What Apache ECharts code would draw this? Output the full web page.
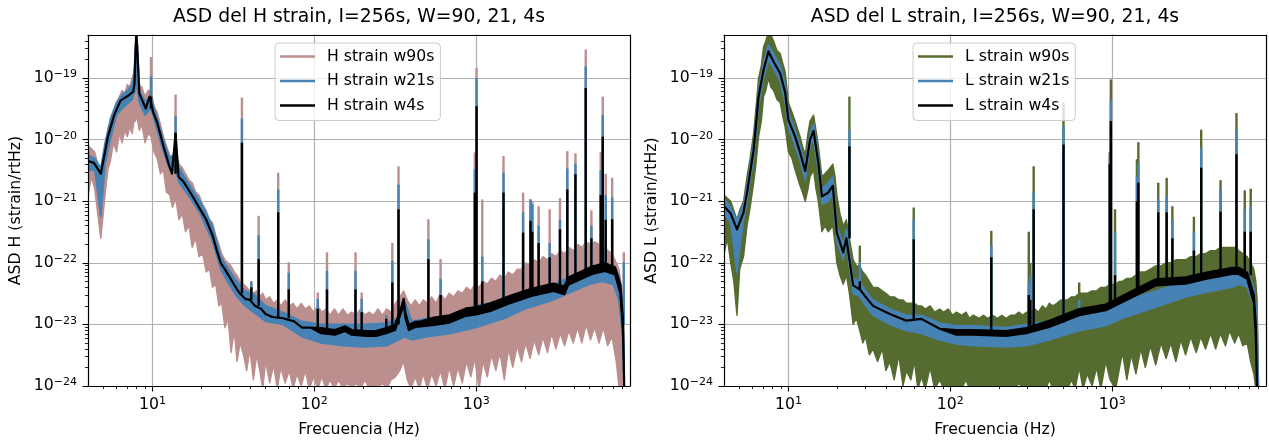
<!DOCTYPE html>
<html>
<head>
<meta charset="utf-8">
<script src="https://cdn.jsdelivr.net/npm/echarts@6/dist/echarts.min.js"></script>
<style>html,body{margin:0;padding:0;background:#fff}#c{width:1269px;height:443px}</style>
</head>
<body>
<div id="c"></div>
<script>
// ---------------- axis ranges & ticks ----------------
const X_MIN = 4, X_MAX = 8900;
const Y_MIN = 1e-24, Y_MAX = 5e-19;
const xMajor = [10, 100, 1000];
const xMinor = [5,6,7,8,9,20,30,40,50,60,70,80,90,200,300,400,500,600,700,800,900,2000,3000,4000,5000,6000,7000,8000];
const yMajor = [1e-24, 1e-23, 1e-22, 1e-21, 1e-20, 1e-19];
const yMinor = [];
for (let d = -24; d <= -19; d++) for (let k = 2; k <= 9; k++) { const v = k * Math.pow(10, d); if (v < Y_MAX) yMinor.push(v); }

const titles = ['ASD del H strain, I=256s, W=90, 21, 4s', 'ASD del L strain, I=256s, W=90, 21, 4s'];
const yNames = ['ASD H (strain/rtHz)', 'ASD L (strain/rtHz)'];
const xName = 'Frecuencia (Hz)';
const hNames = ['H strain w90s', 'H strain w21s', 'H strain w4s'];
const lNames = ['L strain w90s', 'L strain w21s', 'L strain w4s'];

// ---------------- H detector: bands [freq, low, high] ----------------
const hW90 = [
[4.0,1.26e-21,7.9e-21],[4.2,2.5e-21,7.1e-21],[4.4,1.58e-21,6.3e-21],[4.8,2.5e-22,2.5e-21],[5.1,1.26e-21,7.9e-21],
[5.3,3.2e-21,1.41e-20],[5.5,4.5e-21,2.0e-20],[5.75,8.9e-21,2.8e-20],[6.0,6.3e-21,4.0e-20],[6.25,1.26e-20,5.0e-20],
[6.5,8.9e-21,6.3e-20],[6.75,1.41e-20,5.6e-20],[7.0,1.12e-20,7.9e-20],[7.25,1.58e-20,7.1e-20],[7.5,1.26e-20,1.0e-19],
[7.7,2.0e-20,1.26e-19],[7.85,2.0e-20,3.2e-19],[7.95,2.5e-20,1e-18],[8.1,2.0e-20,3.2e-19],[8.3,1.41e-20,7.9e-20],
[8.6,1.78e-20,7.1e-20],[9.0,8.9e-21,5.0e-20],[9.4,1.26e-20,6.3e-20],[9.8,1.12e-20,6.3e-20],[10.2,6.3e-21,3.5e-20],
[10.7,5.0e-21,2.8e-20],[11.2,2.8e-21,1.78e-20],[11.7,3.2e-21,1.12e-20],[12.2,1.41e-21,7.9e-21],[12.8,1.26e-21,5.6e-21],
[13.3,7.9e-22,5.0e-21],[13.9,1.12e-21,7.1e-21],[14.6,5.0e-22,4.0e-21],[15.3,6.3e-22,3.5e-21],[16.0,3.2e-22,2.8e-21],
[16.8,4.0e-22,2.2e-21],[17.6,1.78e-22,2.0e-21],[18.5,2.5e-22,1.41e-21],[19.4,1.26e-22,1.26e-21],[20.4,1.41e-22,8.9e-22],
[21.5,7.1e-23,7.1e-22],[22.5,7.9e-23,5.0e-22],[23.5,4.0e-23,4.5e-22],[24.6,4.5e-23,2.8e-22],[25.7,2.0e-23,2.0e-22],
[26.8,2.2e-23,1.41e-22],[28.0,8.9e-24,1.12e-22],[29.3,1.26e-23,1.0e-22],[30.6,3.5e-24,8.9e-23],[32.0,7.9e-24,7.1e-23],
[33.3,2.5e-24,6.3e-23],[34.8,5.0e-24,5.0e-23],[36.5,3.2e-24,4.5e-23],[38.2,1.78e-24,4.0e-23],[40,4.0e-24,3.5e-23],
[42,1.26e-24,3.2e-23],[44,3.2e-24,3.5e-23],[46,1.78e-24,2.8e-23],[48,3.2e-25,3.2e-23],[50,2.5e-24,2.5e-23],
[53,1.12e-24,2.8e-23],[56,2.2e-24,2.2e-23],[59,6.3e-25,2.5e-23],[62,2.0e-24,2.0e-23],[66,1.12e-24,2.5e-23],
[70,1.78e-24,2.0e-23],[74,5.0e-25,2.2e-23],[78,1.58e-24,1.78e-23],[83,1.0e-24,2.2e-23],[88,1.78e-24,1.78e-23],
[93,4.0e-25,2.0e-23],[99,1.41e-24,1.58e-23],[105,7.9e-25,2.0e-23],[111,1.41e-24,1.58e-23],[118,3.2e-25,1.78e-23],
[125,1.26e-24,1.41e-23],[133,7.1e-25,1.78e-23],[141,1.26e-24,1.41e-23],[150,5.0e-25,1.78e-23],[160,1.12e-24,1.41e-23],
[170,3.2e-25,1.58e-23],[181,1.12e-24,1.41e-23],[193,6.3e-25,1.78e-23],[205,1.26e-24,1.41e-23],[218,4.0e-25,1.58e-23],
[232,1.0e-24,1.41e-23],[247,5.6e-25,1.78e-23],[263,1.12e-24,1.41e-23],[280,3.2e-25,1.78e-23],[298,1.26e-24,1.58e-23],
[317,1.41e-24,2.2e-23],[337,1.78e-24,2.8e-23],[356,2.5e-24,3.5e-23],[375,1.26e-24,2.5e-23],[395,5.0e-25,2.0e-23],
[420,1.41e-24,2.5e-23],[445,7.9e-25,2.0e-23],[470,1.58e-24,2.5e-23],[500,4.0e-25,2.2e-23],[530,1.58e-24,2.8e-23],
[565,1.0e-24,2.2e-23],[600,1.78e-24,3.2e-23],[640,6.3e-25,2.5e-23],[680,2.0e-24,3.2e-23],[725,1.0e-24,2.8e-23],
[770,2.0e-24,3.5e-23],[820,1.12e-24,3.2e-23],[870,2.5e-24,4.0e-23],[925,1.41e-24,3.5e-23],[980,2.8e-24,4.5e-23],
[1040,6.3e-25,4.0e-23],[1100,2.5e-24,5.0e-23],[1170,1.41e-24,4.5e-23],[1240,3.2e-24,5.6e-23],[1320,1.78e-24,5.0e-23],
[1400,3.5e-24,6.3e-23],[1490,1.26e-24,5.6e-23],[1580,4.0e-24,7.1e-23],[1680,2.0e-24,6.3e-23],[1790,4.5e-24,7.9e-23],
[1900,2.5e-24,7.9e-23],[2020,5.0e-24,1.0e-22],[2150,2.8e-24,8.9e-23],[2280,5.6e-24,1.12e-22],[2430,3.2e-24,1.0e-22],
[2580,6.3e-24,1.26e-22],[2750,3.5e-24,1.12e-22],[2920,7.1e-24,1.41e-22],[3100,4.0e-24,1.26e-22],[3300,7.1e-24,1.58e-22],
[3510,4.5e-24,1.41e-22],[3730,7.9e-24,1.78e-22],[3970,5.0e-24,1.58e-22],[4220,8.9e-24,2.0e-22],[4490,5.0e-24,1.78e-22],
[4770,1.0e-23,2.2e-22],[5070,5.6e-24,2.0e-22],[5390,8.9e-24,2.2e-22],[5730,5.0e-24,2.0e-22],[6090,8.9e-24,2.0e-22],
[6480,4.5e-24,1.58e-22],[6890,6.3e-24,1.41e-22],[7320,2.5e-24,1.0e-22],[7600,1.0e-24,7.9e-23],[7900,3.2e-25,4.0e-23],
[8100,3.2e-25,2.0e-23],[8200,3.2e-25,3.2e-24]
];
const hW21 = [
[4.0,3.2e-21,5.6e-21],[4.4,3.2e-21,5.0e-21],[4.8,5.6e-22,3.5e-21],[5.1,4.0e-21,8.9e-21],[5.5,1.0e-20,2.2e-20],
[6.0,2.5e-20,4.0e-20],[6.5,3.2e-20,5.4e-20],[7.0,3.8e-20,6.3e-20],[7.5,4.5e-20,7.9e-20],[7.7,5.6e-20,1.1e-19],
[7.85,6.3e-20,2.8e-19],[7.95,7.9e-20,1e-18],[8.1,6.3e-20,3.2e-19],[8.3,4.0e-20,6.3e-20],[9.0,2.5e-20,4.2e-20],
[9.8,3.2e-20,5.0e-20],[10.7,1.41e-20,2.2e-20],[11.7,6.3e-21,1.0e-20],[12.8,3.2e-21,5.0e-21],[13.9,3.2e-21,6.3e-21],
[14.6,2.0e-21,3.5e-21],[16.6,1.26e-21,2.0e-21],[19.7,6.3e-22,1.0e-21],[23.5,2.2e-22,4.0e-22],[26.4,7.9e-23,1.26e-22],
[29.6,4.5e-23,7.9e-23],[33.3,2.8e-23,5.0e-23],[37.4,2.0e-23,3.5e-23],[42,1.58e-23,3.2e-23],[50,1.12e-23,2.0e-23],
[64,1.0e-23,1.58e-23],[84,6.3e-24,1.12e-23],[110,5.0e-24,1.0e-23],[150,4.5e-24,1.0e-23],[200,4.3e-24,1.0e-23],
[280,4.5e-24,1.05e-23],[330,5.6e-24,1.26e-23],[360,6.3e-24,2.5e-23],[400,5.6e-24,1.12e-23],[500,6.3e-24,1.26e-23],
[700,7.1e-24,1.41e-23],[1000,8.9e-24,2.0e-23],[1500,1.26e-23,2.5e-23],[2000,1.78e-23,3.2e-23],[3000,2.5e-23,4.5e-23],
[4000,3.5e-23,6.3e-23],[5000,4.5e-23,7.9e-23],[6000,5.0e-23,1.0e-22],[7000,4.5e-23,8.9e-23],[7600,2.5e-23,6.3e-23],
[8000,6.3e-24,2.5e-23],[8200,5e-25,3.2e-24]
];
const hW4 = [
[4.0,4.5e-21,4.5e-21],[4.35,4.2e-21,4.2e-21],[4.8,2.8e-21,2.8e-21],[5.3,1.1e-20,1.1e-20],[5.8,2.5e-20,2.5e-20],
[6.35,4.3e-20,4.3e-20],[7.1,5.2e-20,5.2e-20],[7.6,6.0e-20,6.0e-20],[7.75,8.0e-20,8.0e-20],[7.85,2.5e-19,2.5e-19],
[7.95,1e-18,1e-18],[8.1,2.2e-19,2.2e-19],[8.3,5.6e-20,5.6e-20],[8.6,4.5e-20,4.5e-20],[9.1,3.2e-20,3.2e-20],
[9.6,5.0e-20,5.0e-20],[10.1,2.8e-20,2.8e-20],[10.7,1.9e-20,1.9e-20],[11.7,7.8e-21,7.8e-21],[12.6,4.0e-21,4.0e-21],
[13.2,2.8e-21,2.8e-21],[13.9,1.26e-20,1.26e-20],[14.5,2.5e-21,2.5e-21],[15.5,2.1e-21,2.1e-21],[16.6,1.58e-21,1.58e-21],
[18,1.12e-21,1.12e-21],[19.7,7.4e-22,7.4e-22],[21.5,5.0e-22,5.0e-22],[23.5,2.8e-22,2.8e-22],[25,1.58e-22,1.58e-22],
[26.4,1.0e-22,1.0e-22],[28,7.9e-23,7.9e-23],[29.6,6.2e-23,6.2e-23],[31.5,4.7e-23,4.7e-23],[33.3,3.7e-23,3.7e-23],
[34.6,3.2e-23,3.2e-23],[37.4,2.6e-23,2.6e-23],[40,2.5e-23,2.5e-23],[43,2.0e-23,2.0e-23],[47,1.78e-23,1.78e-23],
[50,1.48e-23,1.48e-23],[55,1.32e-23,1.32e-23],[64,1.26e-23,1.26e-23],[75,1.12e-23,1.12e-23],[84,8.9e-24,8.9e-24],
[95,8.9e-24,8.9e-24],[110,7.2e-24,8.7e-24],[134,6.8e-24,8.1e-24],[155,7.8e-24,9.3e-24],[170,6.8e-24,8.1e-24],
[210,6.5e-24,7.8e-24],[240,6.5e-24,7.8e-24],[278,7.2e-24,8.7e-24],[315,8.1e-24,9.8e-24],[345,1.62e-23,1.95e-23],
[356,2.2e-23,2.6e-23],[365,1.29e-23,1.55e-23],[383,8.1e-24,9.8e-24],[420,9.1e-24,1.1e-23],[455,9.3e-24,1.12e-23],
[550,9.8e-24,1.29e-23],[684,1.07e-23,1.41e-23],[863,1.38e-23,1.82e-23],[1000,1.45e-23,1.9e-23],[1222,1.66e-23,2.2e-23],
[1637,2.24e-23,2.95e-23],[2188,2.9e-23,3.8e-23],[3000,3.5e-23,4.6e-23],[3500,3.1e-23,4.1e-23],[3700,4.4e-23,5.8e-23],
[4395,5.4e-23,7.1e-23],[5200,6.6e-23,8.7e-23],[6223,7.4e-23,9.8e-23],[7194,6.5e-23,8.5e-23],[7762,3.2e-23,4.4e-23],
[8050,7.9e-24,1.26e-23],[8200,5e-25,5e-25]
];
// H spectral lines: [freq, base, peak w90s, peak w21s, peak w4s]
const hLines = [
[9.8,3.2e-20,2.2e-19,1.07e-19,5.0e-20],[13.9,2.8e-21,5.4e-20,2.4e-20,1.26e-20],[35.7,3.2e-23,4.8e-20,2.2e-20,8.9e-21],
[40.8,2.5e-23,5.0e-23,5.0e-23,4.0e-23],[45.3,2.0e-23,5.8e-22,2.8e-22,1.15e-22],[59.8,1.32e-23,2.9e-21,1.55e-21,6.6e-22],
[69.5,1.26e-23,1.02e-22,6.9e-23,3.7e-23],[105,8.5e-24,3.3e-23,2.6e-23,1.78e-23],[119.7,7.9e-24,1.48e-22,7.4e-23,3.7e-23],
[179.5,7.4e-24,1.48e-22,7.4e-23,3.7e-23],[196,7.4e-24,3.3e-23,2.6e-23,1.58e-23],[278,7.9e-24,1.78e-23,1.41e-23,1.23e-23],
[303,8.9e-24,2.1e-22,1.07e-22,4.8e-23],[331,1.0e-23,3.7e-21,1.86e-21,7.4e-22],[506,1.07e-23,5.1e-22,2.4e-22,1.15e-22],
[602,1.17e-23,1.15e-22,5.5e-23,3.0e-23],[980,1.58e-23,6.2e-21,3.3e-21,1.38e-21],[1004,1.66e-23,1.45e-19,1.0e-19,3.5e-20],
[1089,1.7e-23,1.07e-21,1.26e-22,5.0e-23],[1473,2.4e-23,5.4e-21,2.9e-21,1.38e-21],[1946,3.0e-23,1.38e-21,6.6e-22,3.1e-22],
[2162,3.2e-23,1.07e-21,1.07e-21,4.8e-22],[2220,3.2e-23,1.0e-21,8.9e-22,3.2e-22],[2427,3.5e-23,8.3e-22,4.0e-22,2.1e-22],
[2839,3.8e-23,7.4e-22,2.1e-22,1.23e-22],[3288,4.0e-23,1.12e-21,5.0e-22,3.5e-22],[3648,5.0e-23,6.5e-21,3.4e-21,1.55e-21],
[4096,5.6e-23,6.0e-21,4.1e-21,2.75e-21],[4742,6.6e-23,2.9e-19,1.55e-19,6.9e-20],[5140,7.2e-23,7.1e-22,4.0e-22,2.5e-22],
[5870,8.3e-23,6.3e-21,3.2e-21,1.26e-21],[6039,8.5e-23,5.0e-20,2.5e-20,1.12e-20],[6300,8.3e-23,2.8e-21,1.26e-21,5.0e-22],
[6905,7.9e-23,2.4e-21,1.15e-21,5.1e-22],[8150,1.0e-23,1.48e-22,1.02e-22,1.0e-23]
];

// ---------------- L detector ----------------
const lW90 = [
[4.0,1.41e-22,1.26e-21],[4.2,2.5e-22,1.12e-21],[4.4,1.0e-22,1.0e-21],[4.6,5.0e-23,7.1e-22],[4.81,1.41e-23,5.0e-22],
[5.0,7.9e-23,7.1e-22],[5.28,1.26e-22,1.0e-21],[5.55,4.0e-22,2.5e-21],[5.8,7.9e-22,5.0e-21],[6.1,2.0e-21,1.26e-20],
[6.3,4.0e-21,3.2e-20],[6.54,1.12e-20,1.0e-19],[6.8,2.0e-20,1.58e-19],[7.02,5.0e-20,3.2e-19],[7.25,6.3e-20,4.0e-19],
[7.53,1.0e-19,6.3e-19],[7.8,7.1e-20,5.0e-19],[8.09,6.3e-20,4.0e-19],[8.5,4.5e-20,2.8e-19],[8.89,4.0e-20,2.5e-19],
[9.2,2.5e-20,1.78e-19],[9.55,1.58e-20,1.26e-19],[10.0,6.3e-21,4.0e-20],[10.5,5.0e-21,2.8e-20],[11.0,3.2e-21,2.0e-20],
[11.8,1.78e-21,1.12e-20],[12.2,1.41e-21,7.9e-21],[12.7,1.0e-21,5.6e-21],[13.2,1.58e-21,1.26e-20],[13.6,2.5e-21,2.0e-20],
[14.3,3.2e-21,2.5e-20],[14.8,1.58e-21,1.41e-20],[15.3,1.0e-21,7.9e-21],[16.1,3.2e-22,2.5e-21],[16.8,4.0e-22,2.8e-21],
[17.6,3.2e-22,3.2e-21],[18.8,4.0e-22,4.0e-21],[19.4,2.0e-22,2.5e-21],[19.9,1.0e-22,1.26e-21],[20.8,6.3e-23,6.3e-22],
[21.8,4.5e-23,4.0e-22],[22.8,6.3e-23,5.0e-22],[23.8,3.2e-23,2.5e-22],[25.1,1.0e-23,1.12e-22],[26.3,1.26e-23,8.9e-23],
[27.6,7.9e-24,8.9e-23],[28.8,5.0e-24,7.1e-23],[30,6.3e-24,6.3e-23],[31.6,3.2e-24,5.0e-23],[33.3,4.0e-24,4.0e-23],
[35.5,2.5e-24,4.0e-23],[38,4.0e-24,3.5e-23],[40,1.78e-24,3.2e-23],[42.3,2.5e-24,2.8e-23],[45,1.26e-24,2.8e-23],
[48,3.2e-24,2.5e-23],[51,1.0e-24,2.5e-23],[53.5,1.78e-24,2.2e-23],[57,1.26e-24,2.2e-23],[60,2.5e-24,2.2e-23],
[63,6.3e-25,2.0e-23],[66.2,1.41e-24,2.0e-23],[70,7.9e-25,1.78e-23],[75,2.0e-24,2.0e-23],[80,5.0e-25,1.58e-23],
[86,1.26e-24,1.78e-23],[91,3.2e-25,1.58e-23],[97,7.9e-25,1.78e-23],[103,3.2e-25,1.41e-23],[109,6.3e-25,1.58e-23],
[117,3.2e-25,1.41e-23],[125,1.26e-24,1.58e-23],[131,3.2e-25,1.26e-23],[138,1.0e-24,1.41e-23],[150,3.2e-25,1.26e-23],
[160,7.9e-25,1.41e-23],[170,3.2e-25,1.26e-23],[182,6.3e-25,1.41e-23],[195,3.2e-25,1.26e-23],[208,1.0e-24,1.41e-23],
[221,3.2e-25,1.26e-23],[235,7.9e-25,1.41e-23],[250,3.2e-25,1.41e-23],[265,1.12e-24,1.58e-23],[280,3.2e-25,1.41e-23],
[294,1.0e-24,1.58e-23],[315,3.2e-25,1.58e-23],[333,7.9e-25,1.78e-23],[350,3.2e-25,1.58e-23],[370,1.0e-24,2.0e-23],
[390,4.0e-25,1.78e-23],[408,1.26e-24,2.2e-23],[430,3.2e-25,2.0e-23],[455,1.0e-24,2.2e-23],[480,4.0e-25,2.5e-23],
[500,7.9e-25,2.5e-23],[530,3.2e-25,2.5e-23],[560,1.26e-24,2.8e-23],[590,5.0e-25,2.8e-23],[625,2.0e-24,3.2e-23],
[660,7.9e-25,3.2e-23],[700,1.58e-24,3.2e-23],[750,1.0e-24,3.5e-23],[800,2.0e-24,3.5e-23],[850,6.3e-25,4.0e-23],
[912,2.5e-24,4.0e-23],[970,1.26e-24,4.5e-23],[1050,5.0e-25,4.5e-23],[1110,2.0e-24,5.0e-23],[1156,3.5e-24,5.0e-23],
[1230,1.26e-24,5.6e-23],[1310,3.2e-24,5.6e-23],[1400,1.58e-24,6.3e-23],[1500,4.0e-24,7.1e-23],[1600,2.0e-24,7.1e-23],
[1720,4.5e-24,7.9e-23],[1854,2.2e-24,8.9e-23],[2000,5.0e-24,8.9e-23],[2150,2.8e-24,1.0e-22],[2300,5.0e-24,1.0e-22],
[2470,2.5e-24,1.12e-22],[2650,5.6e-24,1.12e-22],[2838,3.2e-24,1.12e-22],[3050,6.3e-24,1.26e-22],[3300,3.5e-24,1.26e-22],
[3520,6.3e-24,1.41e-22],[3766,4.0e-24,1.41e-22],[4050,7.1e-24,1.58e-22],[4350,4.0e-24,1.58e-22],[4650,7.1e-24,1.78e-22],
[5000,4.5e-24,1.78e-22],[5300,7.9e-24,1.78e-22],[5700,5.0e-24,1.78e-22],[6039,7.1e-24,1.58e-22],[6400,4.5e-24,1.41e-22],
[6807,5.0e-24,1.26e-22],[7150,2.5e-24,1.0e-22],[7486,1.58e-24,7.9e-23],[7700,3.2e-25,5.0e-23],[7838,3.2e-25,2.5e-23],
[8000,3.2e-25,1.0e-24]
];
const lW21 = [
[4.0,6.3e-22,1.12e-21],[4.4,4.5e-22,7.9e-22],[4.81,6.9e-23,5.0e-22],[5.28,5.0e-22,8.9e-22],[5.55,1.0e-21,1.78e-21],
[6.1,5.0e-21,8.9e-21],[6.54,3.5e-20,6.3e-20],[7.02,1.0e-19,1.78e-19],[7.53,2.0e-19,3.5e-19],[8.09,1.41e-19,2.5e-19],
[8.89,8.9e-20,1.58e-19],[9.55,4.0e-20,7.9e-20],[10.0,1.58e-20,2.8e-20],[11.0,7.9e-21,1.41e-20],[11.8,4.5e-21,7.9e-21],
[12.7,2.2e-21,4.0e-21],[13.6,7.9e-21,1.26e-20],[14.3,1.0e-20,1.78e-20],[15.3,3.2e-21,5.6e-21],[16.1,8.9e-22,1.58e-21],
[17.6,1.0e-21,2.0e-21],[18.8,1.26e-21,2.5e-21],[19.9,2.2e-22,4.0e-22],[21.8,1.12e-22,2.0e-22],[22.8,2.0e-22,3.5e-22],
[25.1,3.2e-23,5.6e-23],[27.6,2.8e-23,5.0e-23],[30,2.0e-23,3.5e-23],[33.3,1.41e-23,2.5e-23],[42.3,1.0e-23,1.78e-23],
[53.5,7.9e-24,1.41e-23],[66.2,7.1e-24,1.41e-23],[86,5.6e-24,1.05e-23],[109,4.8e-24,9.5e-24],[138,4.5e-24,9.5e-24],
[221,4.3e-24,8.9e-24],[294,4.5e-24,1.0e-23],[408,5.6e-24,1.12e-23],[625,7.9e-24,1.41e-23],[912,9.5e-24,1.78e-23],
[1156,1.26e-23,2.4e-23],[1854,1.9e-23,3.5e-23],[2838,2.8e-23,5.0e-23],[3766,3.3e-23,5.6e-23],[5495,4.0e-23,7.1e-23],
[6039,4.5e-23,7.6e-23],[6807,4.0e-23,7.1e-23],[7486,2.0e-23,4.0e-23],[7838,3.2e-24,1.58e-23],[8000,5e-25,1.0e-24]
];
const lW4 = [
[4.0,8.3e-22,8.3e-22],[4.4,6.3e-22,6.3e-22],[4.81,3.5e-22,3.5e-22],[5.28,6.6e-22,6.6e-22],[5.55,1.38e-21,1.38e-21],
[6.1,6.9e-21,6.9e-21],[6.54,5.0e-20,5.0e-20],[7.02,1.35e-19,1.35e-19],[7.53,2.7e-19,2.7e-19],[8.09,1.86e-19,1.86e-19],
[8.89,1.2e-19,1.2e-19],[9.55,5.8e-20,5.8e-20],[10.0,2.1e-20,2.1e-20],[11.0,1.12e-20,1.12e-20],[11.8,6.2e-21,6.2e-21],
[12.7,3.1e-21,3.1e-21],[13.6,1.0e-20,1.0e-20],[14.3,1.38e-20,1.38e-20],[15.3,4.2e-21,4.2e-21],[16.1,1.2e-21,1.2e-21],
[17.6,1.38e-21,1.38e-21],[18.8,1.78e-21,1.78e-21],[19.9,3.1e-22,3.1e-22],[21.0,2.0e-22,2.0e-22],[21.8,1.48e-22,1.48e-22],
[22.8,2.5e-22,2.5e-22],[25.1,4.3e-23,4.3e-23],[27.6,3.7e-23,3.7e-23],[30,2.8e-23,2.8e-23],[33.3,2.0e-23,2.0e-23],
[42.3,1.48e-23,1.48e-23],[53.5,1.15e-23,1.15e-23],[66.2,1.23e-23,1.23e-23],[86,8.5e-24,8.5e-24],[109,6.8e-24,8.1e-24],
[138,6.8e-24,8.1e-24],[221,6.5e-24,7.8e-24],[294,7.2e-24,8.7e-24],[408,9.1e-24,1.15e-23],[625,1.41e-23,1.78e-23],
[912,1.7e-23,2.1e-23],[1156,2.3e-23,2.9e-23],[1854,4.3e-23,5.4e-23],[2838,4.6e-23,5.8e-23],[3766,5.5e-23,6.9e-23],
[5495,6.6e-23,8.3e-23],[6039,6.6e-23,8.3e-23],[6807,5.5e-23,6.9e-23],[7486,2.2e-23,3.0e-23],[7700,6.3e-24,1.0e-23],
[7838,5e-25,5e-25]
];
// L spectral lines: [freq, base, peak w90s, peak w21s, peak w4s]
const lLines = [
[23.8,2.5e-22,5.0e-20,1.45e-20,7.8e-21],[27.6,3.7e-23,1.9e-22,1.02e-22,5.0e-23],[59.4,1.2e-23,7.9e-22,5.1e-22,2.4e-22],
[179,7.4e-24,3.3e-22,1.9e-22,1.23e-22],[305,7.9e-24,3.2e-22,4.8e-23,3.0e-23],[312,7.9e-24,1.0e-22,6.3e-23,2.5e-23],
[327,8.3e-24,3.7e-21,1.38e-21,7.4e-22],[500,1.07e-23,4.0e-20,1.66e-20,8.3e-21],[625,1.58e-23,4.8e-23,2.5e-23,1.78e-23],
[965,1.9e-23,6.3e-21,5.0e-21,4.0e-21],[980,1.9e-23,9.5e-20,4.5e-20,2.0e-20],[1040,2.1e-23,7.4e-22,3.2e-22,6.3e-23],
[1420,3.0e-23,4.8e-21,2.5e-21,1.0e-21],[1449,3.2e-23,9.1e-21,4.2e-21,2.0e-21],[1923,4.8e-23,2.0e-21,1.07e-21,6.6e-22],
[2167,4.9e-23,2.4e-21,1.2e-21,6.6e-22],[2350,5.0e-23,8.3e-22,5.0e-22,2.5e-22],[3193,5.6e-23,5.6e-22,3.2e-22,1.58e-22],
[3541,6.0e-23,1.45e-20,7.4e-21,3.5e-21],[4663,6.8e-23,2.2e-21,1.55e-21,6.8e-22],[5848,7.4e-23,2.7e-20,1.45e-20,5.8e-21],
[6580,7.1e-23,1.5e-21,7.4e-22,3.2e-22],[7161,6.3e-23,1.6e-21,8.3e-22,3.2e-22]
];

// ---------------- styles ----------------
const FONT = 'DejaVu Sans';
const C90H = '#bc8f8f', C90L = '#556b2f', C21 = '#4682b4', C4 = '#000000';
const GRIDS = [{left: 88, top: 35, width: 542, height: 352}, {left: 724, top: 35, width: 542, height: 352}];

function supLabel(v) {
  const e = Math.round(Math.log10(v));
  return '{b|10}{s|' + (e < 0 ? '\u2212' + (-e) : String(e)) + '}';
}
const rich = {
  b: {fontSize: 15.7, fontFamily: FONT, color: '#000', lineHeight: 18},
  s: {fontSize: 11, fontFamily: FONT, color: '#000', lineHeight: 11, verticalAlign: 'top'}
};

function axesFor(dim, g) {
  const isX = dim === 'x';
  const base = {
    gridIndex: g, type: 'log', logBase: 10,
    min: isX ? X_MIN : Y_MIN, max: isX ? X_MAX : Y_MAX,
    splitLine: {show: false}, axisLine: {show: false, onZero: false},
    axisTick: {show: false}, axisLabel: {show: false}
  };
  const major = isX ? xMajor : yMajor, minor = isX ? xMinor : yMinor;
  const near = isX ? 'bottom' : 'left', far = isX ? 'top' : 'right';
  return [
    Object.assign({}, base, {position: near, z: 0,
      axisTick: {show: true, inside: true, length: isX ? 352 : 542, customValues: major,
        lineStyle: {color: '#b0b0b0', width: 1.2}}}),
    Object.assign({}, base, {position: near, z: 10,
      axisLine: {show: true, onZero: false, lineStyle: {color: '#000', width: 1.2}},
      axisTick: {show: true, length: 5.5, customValues: major, lineStyle: {color: '#000', width: 1.1}},
      axisLabel: {show: true, customValues: major, formatter: supLabel, rich: rich, margin: isX ? 10 : 11},
      name: isX ? xName : yNames[g], nameLocation: 'middle', nameGap: isX ? 36 : 64,
      nameTextStyle: {fontSize: 15.7, fontFamily: FONT, color: '#000'}}),
    Object.assign({}, base, {position: near, z: 10,
      axisTick: {show: true, length: 3.1, customValues: minor, lineStyle: {color: '#000', width: 0.85}}}),
    Object.assign({}, base, {position: far, z: 10,
      axisLine: {show: true, onZero: false, lineStyle: {color: '#000', width: 1.2}}})
  ];
}

function clampPt(p, cs) {
  return [p[0], Math.max(cs.y - 3, Math.min(cs.y + cs.height + 3, p[1]))];
}

function bandSeries(name, rows, color, g, lw) {
  return {
    type: 'custom', name: name, xAxisIndex: g * 4, yAxisIndex: g * 4, clip: true,
    data: rows, encode: {x: 0, y: [1, 2]}, itemStyle: {color: color}, silent: true,
    renderItem: function (params, api) {
      if (params.dataIndexInside !== 0) return null;
      const cs = params.coordSys, n = params.dataInsideLength;
      const top = [], bot = [];
      for (let i = 0; i < n; i++) {
        const f = api.value(0, i);
        top.push(clampPt(api.coord([f, api.value(2, i)]), cs));
        bot.push(clampPt(api.coord([f, api.value(1, i)]), cs));
      }
      return {type: 'polygon', shape: {points: top.concat(bot.reverse())},
        style: {fill: color, stroke: color, lineWidth: lw, lineJoin: 'round'}};
    }
  };
}

function lineSeries(name, rows, col, color, g, lw) {
  return {
    type: 'custom', name: name, xAxisIndex: g * 4, yAxisIndex: g * 4, clip: true,
    data: rows.map(function (r) { return [r[0], r[1], r[col]]; }),
    encode: {x: 0, y: [1, 2]}, itemStyle: {color: color}, silent: true,
    renderItem: function (params, api) {
      const cs = params.coordSys;
      const a = clampPt(api.coord([api.value(0), api.value(1)]), cs);
      const b = clampPt(api.coord([api.value(0), api.value(2)]), cs);
      return {type: 'line', shape: {x1: a[0], y1: a[1], x2: b[0], y2: b[1]},
        style: {stroke: color, lineWidth: lw}};
    }
  };
}

function legendFor(names, colors, left) {
  return {
    orient: 'vertical', left: left, top: 43, selectedMode: false,
    data: names.map(function (n, i) { return {name: n, icon: 'rect', itemStyle: {color: colors[i]}}; }),
    itemWidth: 35, itemHeight: 2.6, itemGap: 6.5,
    padding: [4.5, 6, 6, 5],
    textStyle: {fontSize: 15.7, fontFamily: FONT, color: '#000', lineHeight: 18, padding: [0, 0, 0, 7]},
    backgroundColor: 'rgba(255,255,255,0.8)', borderColor: '#cccccc', borderWidth: 1, borderRadius: 4
  };
}

const option = {
  animation: false,
  backgroundColor: '#ffffff',
  textStyle: {fontFamily: FONT},
  title: titles.map(function (t, g) {
    return {text: t, left: GRIDS[g].left + GRIDS[g].width / 2, top: 8, textAlign: 'center', padding: 0,
      textStyle: {fontSize: 18.8, fontWeight: 'normal', fontFamily: FONT, color: '#000'}};
  }),
  legend: [legendFor(hNames, [C90H, C21, C4], 275), legendFor(lNames, [C90L, C21, C4], 913)],
  grid: GRIDS,
  xAxis: axesFor('x', 0).concat(axesFor('x', 1)),
  yAxis: axesFor('y', 0).concat(axesFor('y', 1)),
  series: [
    bandSeries(hNames[0], hW90, C90H, 0, 1.4), lineSeries(hNames[0], hLines, 2, C90H, 0, 2.4),
    bandSeries(hNames[1], hW21, C21, 0, 1.6), lineSeries(hNames[1], hLines, 3, C21, 0, 2.4),
    bandSeries(hNames[2], hW4, C4, 0, 2.2), lineSeries(hNames[2], hLines, 4, C4, 0, 2.4),
    bandSeries(lNames[0], lW90, C90L, 1, 1.4), lineSeries(lNames[0], lLines, 2, C90L, 1, 2.4),
    bandSeries(lNames[1], lW21, C21, 1, 1.6), lineSeries(lNames[1], lLines, 3, C21, 1, 2.4),
    bandSeries(lNames[2], lW4, C4, 1, 2.2), lineSeries(lNames[2], lLines, 4, C4, 1, 2.4)
  ]
};

const chart = echarts.init(document.getElementById('c'), null, {renderer: 'canvas'});
chart.setOption(option);
</script>
</body>
</html>
